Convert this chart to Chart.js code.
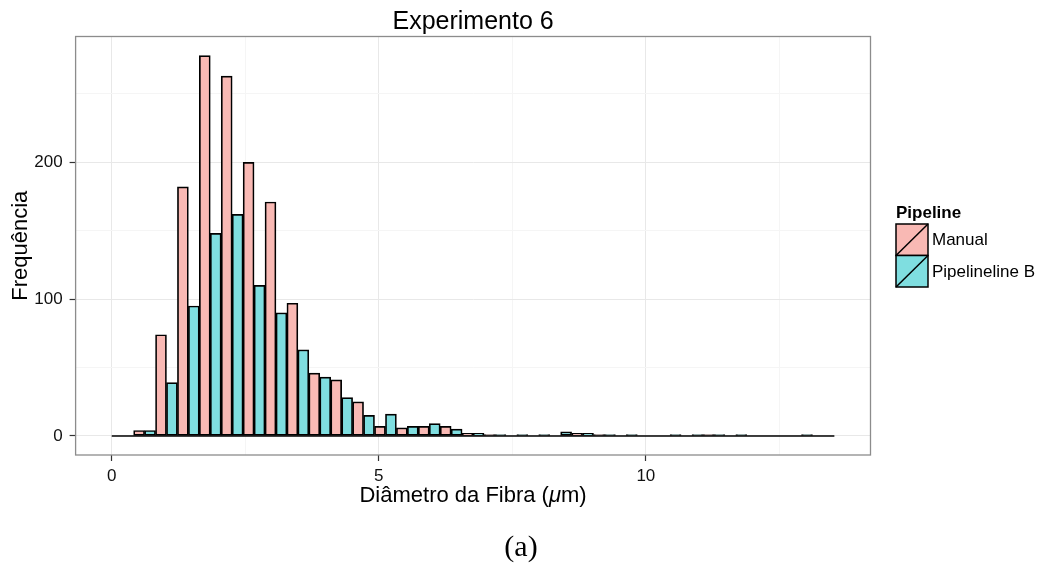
<!DOCTYPE html>
<html>
<head>
<meta charset="utf-8">
<script src="https://cdn.jsdelivr.net/npm/chart.js"></script>
<style>
  html, body { margin: 0; padding: 0; background: #fff; }
  #wrap { width: 1041px; height: 567px; position: relative; }
</style>
</head>
<body>
<div id="wrap"><canvas id="hist" width="1041" height="567"></canvas></div>
<script>
// histogram bins (left edges, µm) and counts
const binWidth = 0.41;
const binStarts = [0, 0.41, 0.82, 1.23, 1.64, 2.05, 2.46, 2.87, 3.28, 3.69, 4.10,
  4.51, 4.92, 5.33, 5.74, 6.15, 6.56, 6.97, 7.38, 7.79, 8.20, 8.61, 9.02, 9.43,
  9.84, 10.25, 10.66, 11.07, 11.48, 11.89, 12.30, 12.71, 13.12];
const manualCounts = [0, 4, 74, 182, 278, 263, 200, 171, 97, 46, 41, 25, 7, 6, 7,
  7, 2, 1, 0, 0, 0, 2, 1, 0, 0, 0, 0, 1, 0, 0, 0, 0, 0];
const pipelineCounts = [0, 4, 39, 95, 148, 162, 110, 90, 63, 43, 28, 15, 16, 7, 9,
  5, 2, 1, 1, 1, 3, 2, 1, 1, 0, 1, 1, 1, 1, 0, 0, 1, 0];
const seriesNames = ['Manual', 'Pipelineline B'];
const seriesColors = ['#F9B9B4', '#7FDEE0'];
const xTicks = [0, 2.5, 5, 7.5, 10, 12.5];
const yTicks = [0, 50, 100, 150, 200, 250];

const SANS = '"Liberation Sans", Arial, Helvetica, sans-serif';

// dodge: manual on the left half of each bin, pipeline on the right half
const manualPts = binStarts.map((s, i) => ({ x: s + binWidth / 4, y: manualCounts[i] }));
const pipelinePts = binStarts.map((s, i) => ({ x: s + binWidth * 3 / 4, y: pipelineCounts[i] }));
const lastEdge = binStarts[binStarts.length - 1] + binWidth;

const decor = {
  id: 'decor',
  afterDraw(chart) {
    const ctx = chart.ctx;
    const a = chart.chartArea;
    ctx.save();

    // panel border
    ctx.strokeStyle = '#8c8c8c';
    ctx.lineWidth = 1.3;
    ctx.strokeRect(a.left, a.top, a.right - a.left, a.bottom - a.top);

    ctx.fillStyle = '#000';
    // title
    ctx.font = '25px ' + SANS;
    ctx.textAlign = 'center';
    ctx.textBaseline = 'alphabetic';
    ctx.fillText('Experimento 6', (a.left + a.right) / 2, 29);

    // x axis title with italic mu
    const parts = [['Diâmetro da Fibra (', '22px ' + SANS], ['μ', 'italic 22px ' + SANS], ['m)', '22px ' + SANS]];
    let total = 0;
    parts.forEach(p => { ctx.font = p[1]; total += ctx.measureText(p[0]).width; });
    let x = (a.left + a.right) / 2 - total / 2;
    ctx.textAlign = 'left';
    parts.forEach(p => {
      ctx.font = p[1];
      ctx.fillText(p[0], x, 502);
      x += ctx.measureText(p[0]).width;
    });

    // y axis title
    ctx.save();
    ctx.translate(21, (a.top + a.bottom) / 2);
    ctx.rotate(-Math.PI / 2);
    ctx.font = '22px ' + SANS;
    ctx.textAlign = 'center';
    ctx.textBaseline = 'middle';
    ctx.fillText('Frequência', 0, 0);
    ctx.restore();

    // legend
    ctx.font = 'bold 17px ' + SANS;
    ctx.textAlign = 'left';
    ctx.textBaseline = 'alphabetic';
    ctx.fillText('Pipeline', 896, 218);
    const kx = 896, ky = 224, kw = 32, kh = 31.5;
    seriesNames.forEach((name, i) => {
      const y0 = ky + i * kh;
      ctx.fillStyle = seriesColors[i];
      ctx.fillRect(kx, y0, kw, kh);
      ctx.strokeStyle = '#000';
      ctx.lineWidth = 1.5;
      ctx.strokeRect(kx, y0, kw, kh);
      ctx.beginPath();
      ctx.moveTo(kx, y0 + kh);
      ctx.lineTo(kx + kw, y0);
      ctx.stroke();
      ctx.fillStyle = '#000';
      ctx.font = '17px ' + SANS;
      ctx.textBaseline = 'middle';
      ctx.fillText(name, kx + kw + 4, y0 + kh / 2 + 1);
    });

    // sub-figure caption
    ctx.font = '30px "Liberation Serif", "DejaVu Serif", serif';
    ctx.textAlign = 'center';
    ctx.textBaseline = 'middle';
    ctx.fillText('(a)', 521, 548);

    ctx.restore();
  }
};

new Chart(document.getElementById('hist'), {
  type: 'bar',
  data: {
    datasets: [
      {
        type: 'line',
        data: [{ x: binStarts[0], y: 0 }, { x: lastEdge, y: 0 }],
        borderColor: '#000',
        borderWidth: 1.7,
        pointRadius: 0
      },
      {
        label: seriesNames[0],
        data: manualPts,
        backgroundColor: seriesColors[0],
        borderColor: '#000',
        borderWidth: 1.7,
        borderSkipped: false
      },
      {
        label: seriesNames[1],
        data: pipelinePts,
        backgroundColor: seriesColors[1],
        borderColor: '#000',
        borderWidth: 1.7,
        borderSkipped: false
      }
    ]
  },
  options: {
    responsive: false,
    animation: false,
    grouped: false,
    barPercentage: 1,
    categoryPercentage: 1,
    layout: { padding: { top: 36.5, right: 170.5, left: 0, bottom: 0 } },
    plugins: {
      legend: { display: false },
      title: { display: false },
      tooltip: { enabled: false }
    },
    scales: {
      x: {
        type: 'linear',
        min: -0.6765,
        max: 14.2065,
        offset: false,
        afterBuildTicks: s => { s.ticks = xTicks.map(v => ({ value: v })); },
        afterFit: s => { s.height = 112; },
        border: { display: false },
        grid: {
          offset: false,
          lineWidth: 1,
          color: c => (c.tick && c.tick.value % 5 === 0) ? '#e8e8e8' : '#f5f5f5',
          tickColor: c => (c.tick && c.tick.value % 5 === 0) ? '#333' : 'rgba(0,0,0,0)',
          tickLength: 6,
          tickWidth: 1.2
        },
        ticks: {
          autoSkip: false,
          maxRotation: 0,
          padding: 5,
          color: '#111',
          font: { family: SANS, size: 17 },
          callback: v => (v % 5 === 0 ? String(v) : '')
        }
      },
      y: {
        type: 'linear',
        min: -13.9,
        max: 291.9,
        afterBuildTicks: s => { s.ticks = yTicks.map(v => ({ value: v })); },
        afterFit: s => { s.width = 75.6; },
        border: { display: false },
        grid: {
          lineWidth: 1,
          color: c => (c.tick && c.tick.value % 100 === 0) ? '#e8e8e8' : '#f5f5f5',
          tickColor: c => (c.tick && c.tick.value % 100 === 0) ? '#333' : 'rgba(0,0,0,0)',
          tickLength: 6,
          tickWidth: 1.2
        },
        ticks: {
          padding: 7,
          color: '#111',
          font: { family: SANS, size: 17 },
          callback: v => (v % 100 === 0 ? String(v) : '')
        }
      }
    }
  },
  plugins: [decor]
});
</script>
</body>
</html>
